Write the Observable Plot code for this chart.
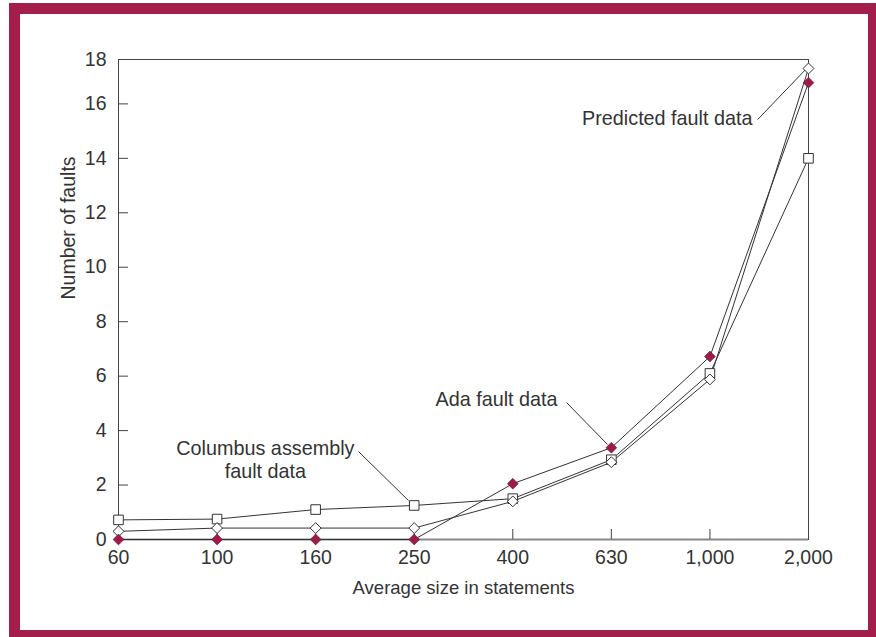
<!DOCTYPE html>
<html><head><meta charset="utf-8">
<script src="https://cdn.jsdelivr.net/npm/d3@7"></script>
<script src="https://cdn.jsdelivr.net/npm/@observablehq/plot@0.6"></script>
<style>
html,body{margin:0;padding:0;background:#fff;}
#wrap{position:relative;width:876px;height:637px;overflow:hidden;background:#fff;}
#border{position:absolute;left:9px;top:3px;width:870px;height:638px;border:11px solid #A41E4B;box-sizing:border-box;}
#chart{position:absolute;left:0;top:0;}
</style></head><body>
<div id="wrap"><div id="chart"></div><div id="border"></div></div>
<script>
// Data
const categories = ["60", "100", "160", "250", "400", "630", "1,000", "2,000"];
const columbusFaults = [0.72, 0.75, 1.1, 1.25, 1.5, 2.93, 6.1, 14.0];
const predictedFaults = [0.3, 0.42, 0.42, 0.42, 1.4, 2.84, 5.88, 17.3];
const adaFaults = [0, 0, 0, 0, 2.05, 3.37, 6.72, 16.78];
const yTicks = [0, 2, 4, 6, 8, 10, 12, 14, 16];
const yTop = 17.63;
const yTopLabel = "18";
const xTitle = "Average size in statements";
const yTitle = "Number of faults";
// annotation labels with leader lines (in data units: x = category index, y = faults)
const annotations = [
  {text: "Predicted fault data", x: 6.432, y: 15.46, anchor: "end", x1: 6.483, y1: 15.42, x2: 6.97, y2: 17.26},
  {text: "Ada fault data", x: 4.454, y: 5.12, anchor: "end", x1: 4.545, y1: 5.03, x2: 4.961, y2: 3.49},
  {text: "Columbus assembly\nfault data", x: 1.49, y: 2.94, anchor: "middle", x1: 2.435, y1: 3.23, x2: 2.942, y2: 1.43}
];

const toRows = vals => vals.map((v, i) => ({i, v}));
const colRows = toRows(columbusFaults);
const preRows = toRows(predictedFaults);
const adaRows = toRows(adaFaults);

const ink = "#333";
const crimson = "#9E1B47";
const font = "'Liberation Sans', Arial, Helvetica, sans-serif";

const chart = Plot.plot({
  width: 876,
  height: 637,
  marginLeft: 118,
  marginRight: 68,
  marginTop: 59,
  marginBottom: 98,
  style: {fontFamily: font, color: ink, background: "transparent", overflow: "visible"},
  x: {type: "linear", domain: [0, categories.length - 1]},
  y: {domain: [0, yTop]},
  marks: [
    Plot.frame({stroke: "#444"}),
    Plot.ruleY([0], {stroke: "#888", strokeWidth: 2}),
    Plot.axisX(d3.range(categories.length), {
      tickSize: -10, tickPadding: 21, tickFormat: i => categories[i],
      fontSize: 19.5, label: null, stroke: "#444", fill: ink
    }),
    Plot.axisY([...yTicks, yTop], {
      tickSize: -10, tickPadding: 22, tickFormat: d => d === yTop ? yTopLabel : String(d),
      fontSize: 19.5, label: null, stroke: "#444", fill: ink
    }),
    Plot.text([xTitle], {frameAnchor: "bottom", dy: 49, lineAnchor: "middle", fontSize: 18.5, fill: ink}),
    Plot.text([yTitle], {frameAnchor: "left", dx: -50, rotate: -90, lineAnchor: "middle", fontSize: 19.5, fill: ink}),
    Plot.line(colRows, {x: "i", y: "v", stroke: ink, strokeWidth: 1}),
    Plot.line(preRows, {x: "i", y: "v", stroke: ink, strokeWidth: 1}),
    Plot.line(adaRows, {x: "i", y: "v", stroke: ink, strokeWidth: 1}),
    Plot.link(annotations, {x1: "x1", y1: "y1", x2: "x2", y2: "y2", stroke: ink, strokeWidth: 1}),
    Plot.text(annotations.filter(d => d.anchor === "end"), {x: "x", y: "y", text: "text", textAnchor: "end", lineAnchor: "middle", fontSize: 19.8, fill: ink}),
    Plot.text(annotations.filter(d => d.anchor === "middle"), {x: "x", y: "y", text: "text", textAnchor: "middle", lineAnchor: "middle", fontSize: 19.8, lineHeight: 1.14, fill: ink}),
    Plot.dot(colRows, {x: "i", y: "v", symbol: "square", r: 5.4, fill: "white", stroke: ink, strokeWidth: 1}),
    Plot.dot(preRows, {x: "i", y: "v", symbol: "diamond2", r: 4.9, fill: "white", stroke: ink, strokeWidth: 1}),
    Plot.dot(adaRows, {x: "i", y: "v", symbol: "diamond2", r: 4.9, fill: crimson, stroke: "#5a0f28", strokeWidth: 0.5})
  ]
});
document.getElementById("chart").appendChild(chart);
</script>
</body></html>
